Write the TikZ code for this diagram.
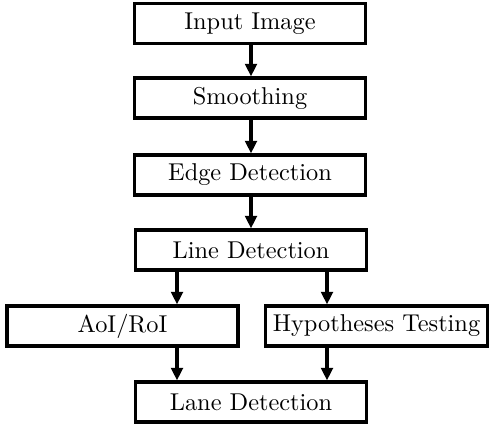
\documentclass[tikz,border=0pt]{standalone}
\usetikzlibrary{arrows.meta}
\begin{document}
\begin{tikzpicture}[x=0.4333pt,y=-0.4333pt,
  box/.style={draw, line width=1.4pt, minimum width=100pt, minimum height=17.3pt, inner sep=0pt, font=\fontsize{10.55}{12}\selectfont},
  arr/.style={line width=1.4pt, -{Triangle[width=5pt,length=5.4pt]}}]
\useasboundingbox (0,0) rectangle (489,423);
\node[box] (inp) at (250,23.5) {Input Image};
\node[box] (smo) at (250,98) {Smoothing};
\node[box] (edg) at (250,175) {Edge Detection};
\node[box] (lin) at (251,250) {Line Detection};
\node[box] (aoi) at (122.5,326) {AoI/RoI};
\node[box, minimum width=96.5pt] (hyp) at (376.5,326) {Hypotheses Testing};
\node[box] (lan) at (251,402) {Lane Detection};
\coordinate (cl) at (177,0);
\coordinate (cr) at (327,0);
\coordinate (cm) at (251,0);
\draw[arr] (inp.south -| cm) -- (smo.north -| cm);
\draw[arr] (smo.south -| cm) -- (edg.north -| cm);
\draw[arr] (edg.south -| cm) -- (lin.north -| cm);
\draw[arr] (lin.south -| cl) -- (aoi.north -| cl);
\draw[arr] (lin.south -| cr) -- (hyp.north -| cr);
\draw[arr] (aoi.south -| cl) -- (lan.north -| cl);
\draw[arr] (hyp.south -| cr) -- (lan.north -| cr);
\end{tikzpicture}
\end{document}
